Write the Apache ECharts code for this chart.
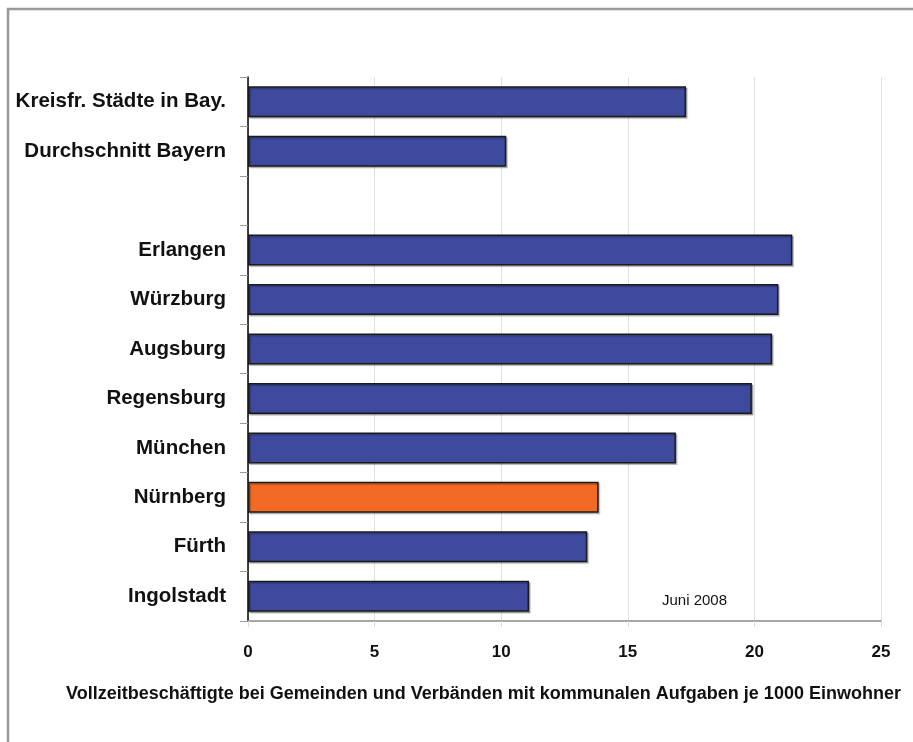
<!DOCTYPE html>
<html><head><meta charset="utf-8">
<script src="https://cdn.jsdelivr.net/npm/echarts@6/dist/echarts.min.js"></script>
<style>html,body{margin:0;padding:0;background:#fff}#c{width:913px;height:742px}</style>
</head><body><div id="c"></div>
<script>
const categories = ['Kreisfr. Städte in Bay.', 'Durchschnitt Bayern', '', 'Erlangen', 'Würzburg', 'Augsburg', 'Regensburg', 'München', 'Nürnberg', 'Fürth', 'Ingolstadt'];
const values = [17.3, 10.2, null, 21.5, 20.95, 20.7, 19.9, 16.9, 13.85, 13.4, 11.1];
const highlight = 'Nürnberg';
const xTicks = [0, 5, 10, 15, 20, 25];
const axisTitle = 'Vollzeitbeschäftigte bei Gemeinden und Verbänden mit kommunalen Aufgaben je 1000 Einwohner';
const note = 'Juni 2008';

const chart = echarts.init(document.getElementById('c'), null, {renderer: 'canvas'});
const font = '"Liberation Sans", Arial, sans-serif';
chart.setOption({
  animation: false,
  textStyle: {fontFamily: font},
  grid: {left: 248, right: 32, top: 77, bottom: 121, containLabel: false},
  xAxis: {
    type: 'value', min: xTicks[0], max: xTicks[xTicks.length - 1], interval: 5,
    axisLine: {show: true, lineStyle: {color: '#888', width: 1.5}},
    axisTick: {show: true, length: 6, lineStyle: {color: '#ddd'}},
    splitLine: {show: true, lineStyle: {color: '#e0e0e0', width: 1}},
    axisLabel: {color: '#111', fontWeight: 'bold', fontSize: 17, margin: 23, fontFamily: font},
    name: axisTitle, nameLocation: 'middle', nameGap: 64,
    nameTextStyle: {color: '#111', fontWeight: 'bold', fontSize: 18, fontFamily: font, padding: [0, 0, 0, -162]}
  },
  yAxis: {
    type: 'category', data: categories, inverse: true,
    axisLine: {show: true, lineStyle: {color: '#000', width: 1.5}},
    axisTick: {show: true, length: 8, interval: 0, lineStyle: {color: '#999'}},
    axisLabel: {color: '#111', fontWeight: 'bold', fontSize: 20.5, margin: 22, interval: 0, fontFamily: font},
    splitLine: {show: false}
  },
  series: [{
    type: 'bar', barWidth: 31,
    data: values.map((v, i) => ({
      value: v,
      itemStyle: {color: categories[i] === highlight ? '#f26a24' : '#3d4a9e'}
    })),
    itemStyle: {borderColor: '#1a1a1a', borderWidth: 1.5, shadowColor: 'rgba(0,0,0,0.25)', shadowOffsetX: 1.5, shadowOffsetY: 1.5, shadowBlur: 1}
  }],
  graphic: [
    {type: 'rect', shape: {x: 8, y: 9, width: 1000, height: 1000}, style: {fill: 'none', stroke: '#999', lineWidth: 2.5}, silent: true},
    {type: 'text', left: 662, top: 593, style: {text: note, fill: '#111', font: '15px ' + font}}
  ]
});
</script></body></html>
